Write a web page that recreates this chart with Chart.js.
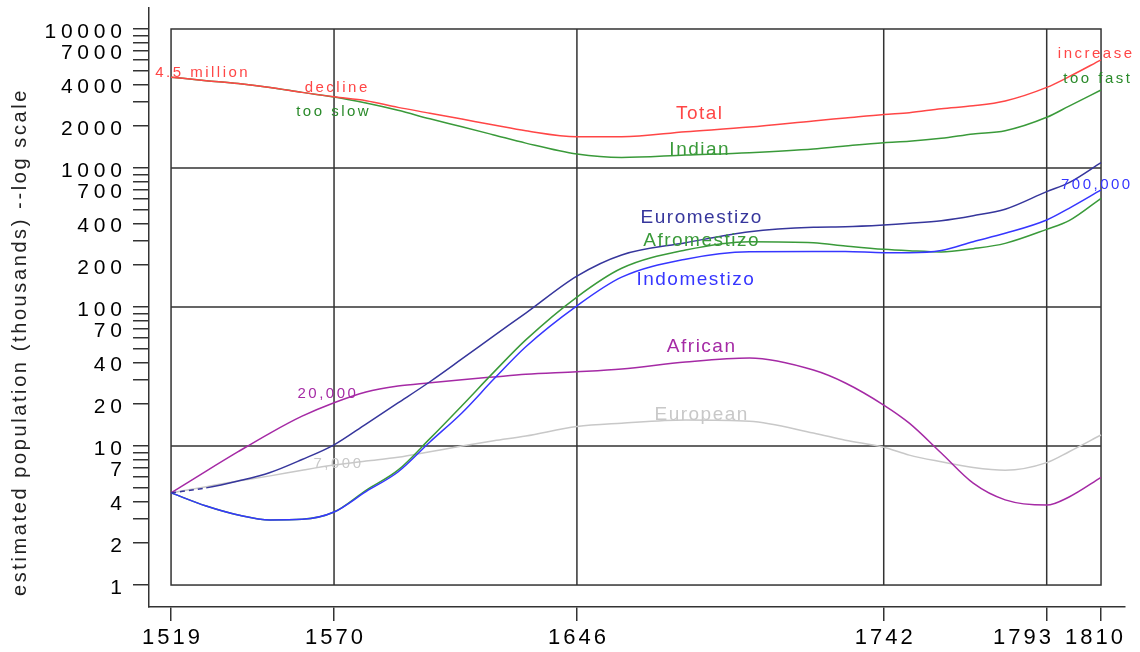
<!DOCTYPE html>
<html>
<head>
<meta charset="utf-8">
<script src="https://cdn.jsdelivr.net/npm/chart.js@4.4.1/dist/chart.umd.min.js"></script>
<style>
  body { margin: 0; background: #fff; }
  #wrap { width: 1140px; height: 652px; }
</style>
</head>
<body>
<div id="wrap"><canvas id="population-chart" width="1140" height="652"></canvas></div>
<script>
// population in thousands
const years = [1519, 1530, 1540, 1550, 1560, 1570, 1580, 1590, 1600, 1610, 1620, 1630, 1646, 1660, 1680, 1700, 1720, 1730, 1742, 1750, 1760, 1770, 1780, 1793, 1800, 1810];
const totalPop = [4500, 4250, 4050, 3800, 3500, 3250, 3050, 2730, 2480, 2250, 2040, 1855, 1680, 1680, 1825, 1970, 2180, 2290, 2430, 2500, 2670, 2800, 3035, 3800, 4540, 6000];
const indianPop = [4500, 4250, 4050, 3800, 3500, 3240, 2930, 2600, 2260, 1980, 1730, 1510, 1260, 1190, 1240, 1290, 1370, 1440, 1520, 1556, 1634, 1757, 1855, 2316, 2790, 3640];
const euromestizoPop = [4.6, 5.0, 5.6, 6.45, 8.0, 10.2, 14.4, 20.4, 29, 42.3, 62, 90.5, 167, 237, 290, 348, 375, 378, 389, 400, 418, 454, 505, 676, 784, 1092];
const indomestizoPop = [4.6, 3.7, 3.19, 2.94, 2.97, 3.35, 4.7, 6.5, 10.7, 17.3, 30.3, 51.8, 102, 164, 221, 250, 251, 251, 246, 246, 255, 295, 339, 423, 513, 695];
const afromestizoPop = [4.6, 3.7, 3.19, 2.94, 2.97, 3.35, 4.8, 6.7, 11.3, 19.5, 34, 58, 118, 190, 257, 295, 290, 275, 260, 254, 249, 263, 287, 362, 418, 605];
const africanPop = [4.6, 6.6, 9.1, 12.4, 16.4, 20.5, 24.5, 27, 28.5, 30, 31.4, 32.8, 34.2, 35.8, 40.2, 43, 35.2, 28.4, 19.7, 14.6, 8.9, 5.4, 4.1, 3.76, 4.3, 5.95];
const europeanPop = [4.6, 5.1, 5.6, 6.1, 6.7, 7.3, 7.8, 8.3, 9.1, 10, 10.9, 11.8, 13.8, 14.6, 15.4, 15.1, 12.4, 11, 9.8, 8.6, 7.7, 7.0, 6.7, 7.6, 9.1, 12];

const xTicks = [1519, 1570, 1646, 1742, 1793, 1810];
const yTicks = [1, 2, 3, 4, 5, 6, 7, 8, 9, 10, 20, 30, 40, 50, 60, 70, 80, 90, 100, 200, 300, 400, 500, 600, 700, 800, 900, 1000, 2000, 3000, 4000, 5000, 6000, 7000, 8000, 9000, 10000];
const yLabels = [1, 2, 4, 7, 10, 20, 40, 70, 100, 200, 400, 700, 1000, 2000, 4000, 7000, 10000];
const gridYears = [1570, 1646, 1742, 1793];
const gridValues = [10, 100, 1000];
const boxYears = [1519, 1810];
const boxValues = [1, 10000];
const yTitle = "estimated population (thousands) --log scale";

const RED = "#ff4646";
const GREEN = "#3a9a3a";
const DARKGREEN = "#2a8a2a";
const NAVY = "#36369c";
const BLUE = "#3636ff";
const PURPLE = "#a52aa5";
const GREY = "#c8c8c8";

// text notes placed at (year, value)
const notes = [
  { text: "4.5 million", year: 1528.5, value: 4820, color: RED, big: false },
  { text: "decline", year: 1570.6, value: 3795, color: RED, big: false },
  { text: "too slow", year: 1569.5, value: 2550, color: DARKGREEN, big: false },
  { text: "Total", year: 1684.2, value: 2445, color: RED, big: true },
  { text: "Indian", year: 1684.2, value: 1359, color: GREEN, big: true },
  { text: "increase", year: 1808.1, value: 6607, color: RED, big: false },
  { text: "too fast", year: 1808.6, value: 4405, color: DARKGREEN, big: false },
  { text: "Euromestizo", year: 1684.8, value: 440, color: NAVY, big: true },
  { text: "Afromestizo", year: 1684.8, value: 301, color: GREEN, big: true },
  { text: "Indomestizo", year: 1683, value: 156.5, color: BLUE, big: true },
  { text: "700,000", year: 1808.3, value: 761, color: BLUE, big: false },
  { text: "African", year: 1684.8, value: 51.6, color: PURPLE, big: true },
  { text: "20,000", year: 1567.7, value: 23.7, color: PURPLE, big: false },
  { text: "European", year: 1684.8, value: 16.7, color: GREY, big: true },
  { text: "7,000", year: 1571, value: 7.48, color: GREY, big: false },
];

function line(label, values, color) {
  return {
    label: label,
    data: years.map((x, i) => ({ x: x, y: values[i] })),
    borderColor: color,
    borderWidth: 1.5,
    pointRadius: 0,
    fill: false,
    cubicInterpolationMode: "monotone",
  };
}

const euroLine = line("Euromestizo", euromestizoPop, NAVY);
euroLine.segment = { borderDash: (c) => (c.p0DataIndex === 0 ? [5, 4] : undefined) };

const framePlugin = {
  id: "frame",
  beforeDraw(chart) {
    chart.ctx.letterSpacing = "4.8px";
  },
  beforeDatasetsDraw(chart) {
    const { ctx, scales: { x, y } } = chart;
    ctx.letterSpacing = "0px";
    const l = x.getPixelForValue(boxYears[0]);
    const r = x.getPixelForValue(boxYears[1]);
    const t = y.getPixelForValue(boxValues[1]);
    const b = y.getPixelForValue(boxValues[0]);
    ctx.save();
    ctx.strokeStyle = "#333";
    ctx.lineWidth = 1.5;
    ctx.strokeRect(l, t, r - l, b - t);
    ctx.beginPath();
    gridYears.forEach((yr) => {
      const px = x.getPixelForValue(yr);
      ctx.moveTo(px, t);
      ctx.lineTo(px, b);
    });
    gridValues.forEach((v) => {
      const py = y.getPixelForValue(v);
      ctx.moveTo(l, py);
      ctx.lineTo(r, py);
    });
    ctx.stroke();
    ctx.restore();
  },
  afterDraw(chart) {
    const { ctx, chartArea, scales: { x, y } } = chart;
    ctx.save();

    // notes
    ctx.textAlign = "center";
    ctx.textBaseline = "middle";
    notes.forEach((n) => {
      const ls = n.big ? 1.5 : 2.5;
      ctx.font = (n.big ? "19px" : "15px") + " 'Liberation Sans', Arial, sans-serif";
      ctx.letterSpacing = ls + "px";
      ctx.fillStyle = n.color;
      ctx.fillText(n.text, x.getPixelForValue(n.year) + ls / 2, y.getPixelForValue(n.value));
    });

    // x tick labels, pushed left where they would collide
    ctx.font = "22px 'Liberation Sans', Arial, sans-serif";
    ctx.letterSpacing = "3px";
    ctx.fillStyle = "#000";
    ctx.textAlign = "left";
    ctx.textBaseline = "alphabetic";
    let maxRight = chartArea.right - 2;
    const lefts = [];
    for (let i = xTicks.length - 1; i >= 0; i--) {
      const label = String(xTicks[i]);
      const w = ctx.measureText(label).width - 3;
      const c = x.getPixelForValue(xTicks[i]);
      const right = Math.min(c + w / 2, maxRight);
      lefts[i] = right - w;
      maxRight = lefts[i] - 14;
    }
    xTicks.forEach((v, i) => ctx.fillText(String(v), lefts[i], 644));

    // y title
    ctx.font = "20px 'Liberation Sans', Arial, sans-serif";
    ctx.letterSpacing = "2.6px";
    ctx.fillStyle = "#222";
    ctx.textAlign = "center";
    ctx.textBaseline = "middle";
    ctx.translate(20, 342);
    ctx.rotate(-Math.PI / 2);
    ctx.fillText(yTitle, 0, 0);
    ctx.restore();
  },
};

const ctx = document.getElementById("population-chart").getContext("2d");

new Chart(ctx, {
  type: "line",
  data: {
    datasets: [
      line("Total", totalPop, RED),
      line("Indian", indianPop, GREEN),
      euroLine,
      line("Indomestizo", indomestizoPop, BLUE),
      line("Afromestizo", afromestizoPop, GREEN),
      line("African", africanPop, PURPLE),
      line("European", europeanPop, GREY),
    ],
  },
  options: {
    responsive: false,
    animation: false,
    layout: { autoPadding: false, padding: { top: 8, right: 15, left: 0, bottom: 0 } },
    plugins: {
      legend: { display: false },
      tooltip: { enabled: false },
    },
    scales: {
      x: {
        type: "linear",
        bounds: "data",
        min: 1512.1,
        max: 1817.5,
        afterBuildTicks: (s) => {
          s.ticks = xTicks.map((v) => ({ value: v }));
        },
        afterFit: (s) => {
          s.height = 45;
          s.paddingLeft = 0;
          s.paddingRight = 0;
        },
        grid: { drawOnChartArea: false, drawTicks: true, tickLength: 14, color: "#333", lineWidth: 1.5 },
        border: { display: true, color: "#333", width: 1.5 },
        ticks: { display: false, autoSkip: false, maxRotation: 0, minRotation: 0 },
      },
      y: {
        type: "logarithmic",
        bounds: "data",
        min: 0.695,
        max: 14160,
        afterBuildTicks: (s) => {
          s.ticks = yTicks.map((v) => ({ value: v }));
        },
        afterFit: (s) => {
          s.width = 149;
          s.paddingTop = 0;
          s.paddingBottom = 0;
        },
        grid: { drawOnChartArea: false, drawTicks: true, tickLength: 16, color: "#333", lineWidth: 1.5 },
        border: { display: true, color: "#333", width: 1.5 },
        ticks: {
          autoSkip: false,
          padding: 6.2,
          labelOffset: 3,
          color: "#000",
          font: { size: 21, family: "'Liberation Sans', Arial, sans-serif" },
          callback: (v) => (yLabels.includes(v) ? String(v) : ""),
        },
      },
    },
  },
  plugins: [framePlugin],
});
</script>
</body>
</html>
